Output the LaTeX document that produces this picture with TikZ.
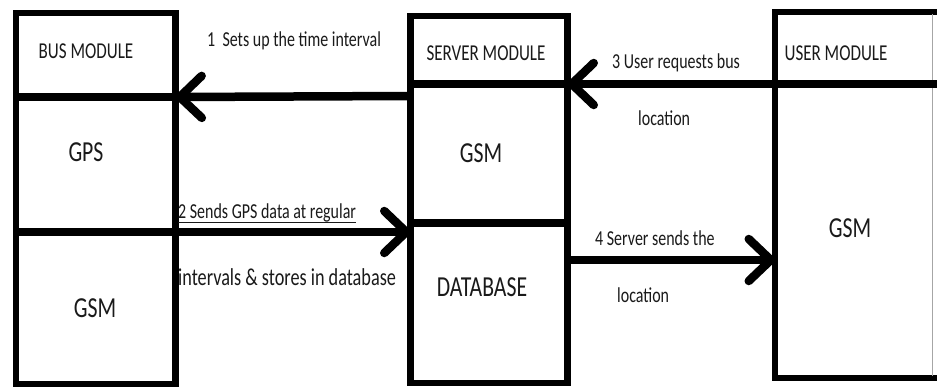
\documentclass[tikz,border=0pt]{standalone}
\usepackage{fontspec}
\usetikzlibrary{arrows.meta}
\newfontfamily\lbl[FakeStretch=0.75]{Carlito}
\definecolor{ink}{HTML}{1A1A1A}

\tikzset{
  frame/.style={draw=black, line width=6.5pt, line join=miter},
  rule/.style={draw=black, line width=8pt},
  flow/.style={draw=black, line width=8.5pt,
    -{Straight Barb[length=22pt,width=42pt,round]}},
  txt/.style={inner sep=0pt, text=ink, font=\lbl},
  title/.style={txt, anchor=base, font=\lbl\fontsize{22.7}{26}\selectfont},
  big/.style={txt, anchor=base, font=\lbl\fontsize{29}{33}\selectfont},
  small/.style={txt, anchor=base west, font=\lbl\fontsize{21.3}{25}\selectfont},
  smallbig/.style={txt, anchor=base west, font=\lbl\fontsize{24.3}{28}\selectfont},
}

\begin{document}
\begin{tikzpicture}[x=1pt, y=-1pt]
  \useasboundingbox (0,0) rectangle (937,391);
  \fill[white] (0,0) rectangle (937,391);

  % module frames
  \node[frame, minimum width=159.5pt, minimum height=371pt, inner sep=0pt] (bus) at (95.75,198.5) {};
  \node[frame, minimum width=157pt, minimum height=367pt, inner sep=0pt] (server) at (489,199.5) {};
  \node[minimum width=157pt, minimum height=366pt, inner sep=0pt] (user) at (853.5,195) {};

  % user module: open towards the right margin
  \coordinate (uTL) at (775,12);
  \coordinate (uBL) at (775,378);
  \coordinate (uTR) at (937,12);
  \coordinate (uBR) at (937,378);
  \draw[frame, line cap=rect] (uTR) -- (uTL) -- (uBL) -- (uBR);
  \draw[black!35, line width=1pt] (932,14) -- (932,376);

  % section dividers
  \coordinate (busD1w) at (16,97);
  \coordinate (busD1e) at (175.5,97);
  \draw[rule] (busD1w) -- (busD1e);
  \coordinate (srvD1w) at (410.5,84);
  \coordinate (srvD1e) at (567.5,84);
  \draw[rule] (srvD1w) -- (srvD1e);
  \coordinate (srvD2w) at (410.5,223);
  \coordinate (srvD2e) at (567.5,223);
  \draw[rule] (srvD2w) -- (srvD2e);
  \coordinate (usrD1w) at (775,84);
  \coordinate (usrD1e) at (937,84);
  \draw[rule] (usrD1w) -- (usrD1e);

  % connector end points on the frames
  \coordinate (a1s) at (410.5,96);
  \coordinate (a1e) at (175.5,97);
  \coordinate (a2s) at (16,232);
  \coordinate (a2e) at (410.5,232);
  \coordinate (a3s) at (775,84);
  \coordinate (a3e) at (567.5,84);
  \coordinate (a4s) at (567.5,260);
  \coordinate (a4e) at (775,260);

  \draw[flow] (a1s) -- (a1e);
  \draw[flow] (a2s) -- (a2e);
  \draw[flow] (a3s) -- (a3e);
  \draw[flow] (a4s) -- (a4e);

  % module titles and parts
  \node[title] (tBus) at (86,58) {BUS MODULE};
  \node[big] (gps) at (86,161) {GPS};
  \node[big] (gsmBus) at (95,317) {GSM};
  \node[title] (tSrv) at (486,60) {SERVER MODULE};
  \node[big] (gsmSrv) at (481,162) {GSM};
  \node[big] (db) at (482,296) {DATABASE};
  \node[title] (tUsr) at (836,60) {USER MODULE};
  \node[big] (gsmUsr) at (850,237) {GSM};

  % connector labels
  \node[small] (l1) at (207,46) {1\ \ Sets up the time interval};
  \node[small] (l2a) at (178,218) {2 Sends GPS data at regular};
  \draw[ink, line width=0.8pt] (l2a.base west) ++(0,4) -- (l2a.base east |- 0,222);
  \node[smallbig] (l2b) at (178,285) {intervals \& stores in database};
  \node[small] (l3a) at (612,68) {3 User requests bus};
  \node[small] (l3b) at (638,125) {location};
  \node[small] (l4a) at (595,245) {4 Server sends the};
  \node[small] (l4b) at (617,302) {location};
\end{tikzpicture}
\end{document}
